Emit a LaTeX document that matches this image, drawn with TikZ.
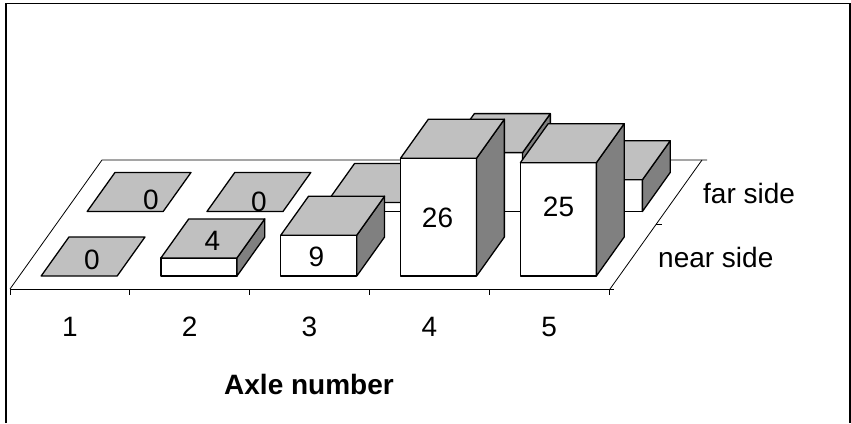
\documentclass[tikz,border=0pt]{standalone}
\usepackage{fontspec}
\setmainfont{Liberation Sans}
\definecolor{topgrey}{HTML}{C0C0C0}
\definecolor{sidegrey}{HTML}{808080}
\newcommand\mybar[3]{%
  \pgfmathsetmacro\yb{289-(13+64.5*#2)}%
  \pgfmathsetmacro\xa{10+119.8*(#1+0.5)-38+(13+64.5*#2)*0.7132}%
  \pgfmathsetmacro\xb{\xa+76}%
  \pgfmathsetmacro\yt{\yb-#3}%
  \pgfmathsetmacro\ytb{\yt-39}%
  \pgfmathsetmacro\ybb{\yb-39}%
  \pgfmathsetmacro\xc{\xa+27.8}%
  \pgfmathsetmacro\xd{\xb+27.8}%
  \ifdim #3pt>0pt
    \draw[frontf] (\xa,\yb) rectangle (\xb,\yt);
    \draw[sidef] (\xb,\yb) -- (\xb,\yt) -- (\xd,\ytb) -- (\xd,\ybb) -- cycle;
  \fi
  \draw[topf] (\xa,\yt) -- (\xb,\yt) -- (\xd,\ytb) -- (\xc,\ytb) -- cycle;
}
\begin{document}
\begin{tikzpicture}[x=1pt,y=-1pt,
  lbl/.style={font=\fontsize{28}{30}\selectfont, inner sep=0pt},
  frontf/.style={fill=white,draw=black,line width=1.3pt,line join=round},
  topf/.style={fill=topgrey,draw=black,line width=1.3pt,line join=round},
  sidef/.style={fill=sidegrey,draw=black,line width=1.3pt,line join=round},
  floorline/.style={draw=black,line width=0.8pt},
  framel/.style={draw=black,line width=1.6pt}]
\useasboundingbox (0,0) rectangle (851,423);
% frame
\draw[framel] (6,423) -- (6,3.5) -- (850,3.5) -- (850,423);
% floor
\draw[floorline] (10,289) -- (102,160) -- (707,160);
\draw[floorline] (702,160) -- (610,289);
\draw[floorline] (10,289) -- (614,289);
\draw[floorline] (656,224.5) -- (662,224.5);
\foreach \k in {0,...,5} {
  \draw[floorline] ({10+119.8*\k},289) -- ({10+119.8*\k},295);
}
% far row
\mybar{0}{1}{0}
\mybar{1}{1}{0}
\mybar{2}{1}{9}
\mybar{3}{1}{58.9}
\mybar{4}{1}{31.7}
\node[lbl] (f1) at (151,200) {0};
\node[lbl] (f2) at (259,201.5) {0};
% near row
\mybar{0}{0}{0}
\mybar{1}{0}{18.1}
\mybar{2}{0}{40.8}
\mybar{3}{0}{117.8}
\mybar{4}{0}{113.3}
\node[lbl] (n1) at (92,260) {0};
\node[lbl] (n2) at (212.5,241) {4};
\node[lbl] (n3) at (316.5,257) {9};
\node[lbl] (n4) at (437.5,217.5) {26};
\node[lbl] (n5) at (558.5,207) {25};
% axis labels
\foreach \k in {1,...,5} {
  \node[lbl,anchor=base] (c\k) at ({10+119.8*(\k-0.5)},336) {\k};
}
\node[lbl,anchor=base,font=\fontsize{28}{30}\selectfont\bfseries] (title) at (309,394.5) {Axle number};
\node[lbl,anchor=base west] (far) at (703,203) {far side};
\node[lbl,anchor=base west] (near) at (658,267) {near side};
\end{tikzpicture}
\end{document}
